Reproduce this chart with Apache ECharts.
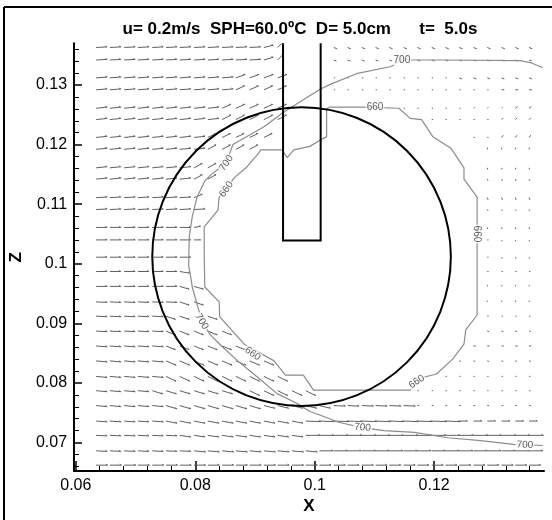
<!DOCTYPE html>
<html>
<head>
<meta charset="utf-8">
<script src="https://cdn.jsdelivr.net/npm/echarts@6/dist/echarts.min.js"></script>
<style>
html, body { margin: 0; background: #fff; }
#chart { width: 552px; height: 520px; }
</style>
</head>
<body>
<div id="chart"></div>
<script>
// chart data
var titleText = 'u= 0.2m/s  SPH=60.0\u00baC  D= 5.0cm      t=  5.0s';

var xMajor = [0.06, 0.08, 0.1, 0.12];
var xMinor = [0.064, 0.068, 0.072, 0.076, 0.084, 0.088, 0.092, 0.096, 0.104, 0.108, 0.112, 0.116, 0.124, 0.128, 0.132, 0.136];
var zMajor = [0.07, 0.08, 0.09, 0.1, 0.11, 0.12, 0.13];
var zMinor = [0.066, 0.068, 0.072, 0.074, 0.076, 0.078, 0.082, 0.084, 0.086, 0.088, 0.092, 0.094, 0.096, 0.098,
              0.102, 0.104, 0.106, 0.108, 0.112, 0.114, 0.116, 0.118, 0.122, 0.124, 0.126, 0.128, 0.132, 0.134, 0.136];

// vector grid
var xCols = [0.0634, 0.0657, 0.0681, 0.0704, 0.0728, 0.0751, 0.0774, 0.0798, 0.0821, 0.0845, 0.0868, 0.0891,
             0.0915, 0.0938, 0.0962, 0.0985, 0.1008, 0.1032, 0.1055, 0.1079, 0.1102, 0.1125, 0.1149, 0.1172,
             0.1196, 0.1219, 0.1242, 0.1266, 0.1289, 0.1313, 0.1336, 0.1359];
var zRows = [0.1363, 0.1342, 0.1312, 0.1292, 0.1261, 0.1242, 0.1212, 0.1192, 0.1161, 0.1142, 0.1111, 0.1091,
             0.1061, 0.1040, 0.1011, 0.0987, 0.0962, 0.0936, 0.0912, 0.0887, 0.0862, 0.0837, 0.0811, 0.0787,
             0.0762, 0.0736, 0.0712, 0.0686, 0.0662];
// per row: [first col, last col, u (m/s), w (m/s)]
var rowRuns = [
    [[0, 11, .20, .01], [12, 12, .17, .04], [13, 13, .10, .10], [17, 31, .06, -.025]],
    [[0, 11, .20, .01], [12, 12, .17, .05], [13, 13, .10, .10], [17, 31, .05, -.02]],
    [[0, 9, .20, .015], [10, 13, .17, .06], [17, 25, .02, 0], [26, 31, .05, -.02]],
    [[0, 9, .20, .015], [10, 13, .16, .07], [17, 28, .015, 0], [29, 31, .05, 0]],
    [[0, 8, .20, .02], [9, 13, .16, .07], [22, 26, .01, 0], [27, 29, .02, .02], [30, 31, .04, .03]],
    [[0, 8, .20, .02], [9, 13, .16, .08], [23, 28, .01, 0], [29, 31, .03, .03]],
    [[0, 7, .20, .02], [8, 12, .15, .07], [27, 28, .01, 0], [29, 31, .03, .04]],
    [[0, 7, .20, .02], [8, 11, .15, .08], [28, 31, .005, .03]],
    [[0, 6, .20, .02], [7, 9, .15, .08], [28, 31, .01, -.03]],
    [[0, 6, .20, .02], [7, 8, .15, .08], [28, 31, .015, -.03]],
    [[0, 6, .20, .01], [7, 7, .15, .06], [28, 31, .015, -.04]],
    [[0, 7, .20, .01], [28, 31, .015, -.025]],
    [[0, 6, .20, 0], [7, 7, .12, .02], [28, 31, .01, -.03]],
    [[0, 6, .20, 0], [7, 7, .12, 0], [28, 28, .005, 0], [29, 31, .01, -.025]],
    [[0, 6, .20, 0], [28, 28, .005, 0], [29, 31, .012, -.025]],
    [[0, 5, .20, 0], [6, 6, .18, -.03], [28, 31, .005, 0]],
    [[0, 5, .20, 0], [6, 7, .17, -.05], [28, 31, .005, .02]],
    [[0, 5, .20, -.01], [6, 7, .17, -.06], [28, 31, .003, .02]],
    [[0, 4, .20, -.01], [5, 8, .17, -.06], [28, 31, .025, 0]],
    [[0, 4, .20, -.01], [5, 9, .17, -.07], [28, 31, .03, -.01]],
    [[0, 4, .20, -.015], [5, 10, .17, -.07], [27, 31, .04, 0]],
    [[0, 4, .20, -.02], [5, 12, .18, -.08], [26, 31, .03, -.01]],
    [[0, 4, .20, -.02], [5, 13, .18, -.09], [25, 31, .01, 0]],
    [[0, 3, .20, -.02], [4, 9, .19, -.06], [10, 15, .18, -.09], [23, 31, .01, 0]],
    [[0, 4, .20, -.02], [5, 11, .20, -.06], [12, 16, .20, -.05], [17, 22, .21, -.01], [23, 31, .03, 0]],
    [[0, 4, .20, -.015], [5, 14, .20, -.04], [15, 25, .27, -.01], [26, 31, .15, 0]],
    [[0, 5, .20, -.01], [6, 14, .20, -.03], [15, 31, .26, 0]],
    [[0, 6, .20, -.01], [7, 15, .21, -.02], [16, 31, .25, 0]],
    [[0, 31, .21, 0]]
];

var circleCenter = [0.0978, 0.1012];
var circleRadius = 0.025;
var probeX = [0.0947, 0.1010];
var probeBottom = 0.1039;

var contour700 = [
    [0.1382, 0.1329], [0.1363, 0.1337], [0.1344, 0.1341], [0.1212, 0.1342], [0.1146, 0.1342], [0.1128, 0.1331],
    [0.1070, 0.1319], [0.1026, 0.1301], [0.1009, 0.1293], [0.0965, 0.1265], [0.0945, 0.1252], [0.0915, 0.1230],
    [0.0891, 0.1216], [0.0863, 0.1200], [0.0852, 0.1169], [0.0827, 0.1150], [0.0816, 0.1139], [0.0803, 0.1112],
    [0.0795, 0.1079], [0.0790, 0.1046], [0.0789, 0.0997], [0.0792, 0.0980], [0.0795, 0.0961], [0.0805, 0.0925],
    [0.0811, 0.0903], [0.0825, 0.0881], [0.0844, 0.0862], [0.0871, 0.0837], [0.0904, 0.0810], [0.0937, 0.0782],
    [0.0970, 0.0766], [0.0992, 0.0752], [0.1014, 0.0744], [0.1040, 0.0734], [0.1080, 0.0725], [0.1116, 0.0720],
    [0.1167, 0.0717], [0.1223, 0.0708], [0.1278, 0.0703], [0.1333, 0.0697], [0.1382, 0.0695]
];
var contour660 = [
    [0.0945, 0.1191], [0.0954, 0.1178], [0.0965, 0.1191], [0.0992, 0.1197], [0.1010, 0.1208], [0.1020, 0.1213],
    [0.1020, 0.1260], [0.1025, 0.1263], [0.1080, 0.1263], [0.1141, 0.1261], [0.1160, 0.1244], [0.1179, 0.1242],
    [0.1198, 0.1213], [0.1228, 0.1194], [0.1250, 0.1161], [0.1250, 0.1142], [0.1272, 0.1112], [0.1272, 0.0914],
    [0.1253, 0.0889], [0.1250, 0.0865], [0.1231, 0.0840], [0.1204, 0.0815], [0.1184, 0.0810], [0.1160, 0.0788],
    [0.0998, 0.0788], [0.0981, 0.0813], [0.0951, 0.0813], [0.0932, 0.0837], [0.0882, 0.0865], [0.0841, 0.0911],
    [0.0840, 0.0936], [0.0816, 0.0961], [0.0815, 0.1013], [0.0815, 0.1062], [0.0838, 0.1090], [0.0840, 0.1112],
    [0.0866, 0.1145], [0.0885, 0.1161], [0.0904, 0.1183], [0.0910, 0.1191], [0.0945, 0.1191]
];
// [x, z, text, angle]
var contourLabels = [
    [0.1146, 0.1342, '700', 0],
    [0.0852, 0.1169, '700', 55],
    [0.0811, 0.0903, '700', -60],
    [0.1080, 0.0725, '700', -5],
    [0.1352, 0.0696, '700', -3],
    [0.1101, 0.1262, '660', 0],
    [0.0852, 0.1125, '660', 55],
    [0.0896, 0.0849, '660', -35],
    [0.1171, 0.0802, '660', 35],
    [0.1272, 0.1050, '660', -90]
];

var X_MIN = 0.0597, X_MAX = 0.1384, Z_MIN = 0.0652, Z_MAX = 0.137;
var ARROW_SCALE = 55; // px per m/s
var FONT = '"Liberation Sans", Arial, sans-serif';

var vectors = [];
rowRuns.forEach(function (runs, r) {
    runs.forEach(function (run) {
        for (var c = run[0]; c <= run[1]; c++) {
            vectors.push([xCols[c], zRows[r], run[2], run[3]]);
        }
    });
});

function renderArrow(params, api) {
    var p = api.coord([api.value(0), api.value(1)]);
    var dx = api.value(2) * ARROW_SCALE, dy = -api.value(3) * ARROW_SCALE;
    var len = Math.sqrt(dx * dx + dy * dy);
    if (len < 1.3) {
        if (len === 0) { dx = 1.3; dy = 0; } else { dx = dx * 1.3 / len; dy = dy * 1.3 / len; }
        len = 1.3;
    }
    var e = [p[0] + dx, p[1] + dy];
    var ux = dx / len, uy = dy / len;
    var h = Math.min(2, len * 0.2), a = 0.5, ca = Math.cos(a), sa = Math.sin(a);
    var b1 = [e[0] - h * (ux * ca - uy * sa), e[1] - h * (uy * ca + ux * sa)];
    var kids = [
        { type: 'line', shape: { x1: p[0], y1: p[1], x2: e[0], y2: e[1] }, style: { stroke: '#606060', lineWidth: 1 } }
    ];
    if (len > 4) {
        kids.push({ type: 'line', shape: { x1: b1[0], y1: b1[1], x2: e[0], y2: e[1] }, style: { stroke: '#606060', lineWidth: 1 } });
    }
    return { type: 'group', children: kids };
}

function renderCircle(params, api) {
    var c = api.coord([api.value(0), api.value(1)]);
    var r = api.size([api.value(2), 0])[0];
    return { type: 'circle', shape: { cx: c[0], cy: c[1], r: r }, style: { fill: 'none', stroke: '#000', lineWidth: 2 } };
}

function renderProbe(params, api) {
    var pts = [
        api.coord([api.value(0), Z_MAX]),
        api.coord([api.value(0), api.value(2)]),
        api.coord([api.value(1), api.value(2)]),
        api.coord([api.value(1), Z_MAX])
    ];
    return { type: 'polyline', shape: { points: pts }, style: { fill: 'none', stroke: '#000', lineWidth: 2 } };
}

function tickFmt(v) { return String(parseFloat((+v).toFixed(3))); }

var chart = echarts.init(document.getElementById('chart'), null, { renderer: 'canvas' });

chart.setOption({
    animation: false,
    backgroundColor: '#fff',
    textStyle: { fontFamily: FONT },
    grid: { left: 66.7, top: 43.3, right: 8, bottom: 40.7, containLabel: false },
    graphic: [
        { type: 'line', shape: { x1: 4, y1: 7, x2: 552, y2: 7 }, style: { stroke: '#000', lineWidth: 2 } },
        { type: 'line', shape: { x1: 4, y1: 7, x2: 4, y2: 520 }, style: { stroke: '#000', lineWidth: 2 } },
        { type: 'text', x: 300, y: 29, style: { text: titleText, font: 'bold 17px ' + FONT, fill: '#000', textAlign: 'center', textVerticalAlign: 'middle' } }
    ],
    xAxis: [{
        type: 'value', min: X_MIN, max: X_MAX, position: 'bottom',
        name: 'X', nameLocation: 'middle', nameGap: 21,
        nameTextStyle: { fontFamily: FONT, fontWeight: 'bold', fontSize: 17, color: '#000' },
        axisLine: { show: true, onZero: false, lineStyle: { color: '#000', width: 2 } },
        axisTick: { show: true, inside: true, length: 10, customValues: xMajor, lineStyle: { color: '#000', width: 1.5 } },
        axisLabel: { show: true, customValues: xMajor, formatter: tickFmt, margin: 6, fontSize: 16, fontFamily: FONT, color: '#000' },
        splitLine: { show: false }
    }, {
        type: 'value', min: X_MIN, max: X_MAX, position: 'bottom', gridIndex: 0,
        axisLine: { show: false },
        axisTick: { show: true, inside: true, length: 5, customValues: xMinor, lineStyle: { color: '#000', width: 1 } },
        axisLabel: { show: false },
        splitLine: { show: false }
    }],
    yAxis: [{
        type: 'value', min: Z_MIN, max: Z_MAX, position: 'left',
        name: 'Z', nameLocation: 'middle', nameGap: 42, nameRotate: 90,
        nameTextStyle: { fontFamily: FONT, fontWeight: 'bold', fontSize: 17, color: '#000' },
        axisLine: { show: true, onZero: false, lineStyle: { color: '#000', width: 2 } },
        axisTick: { show: true, inside: true, length: 8, customValues: zMajor, lineStyle: { color: '#000', width: 1.5 } },
        axisLabel: { show: true, customValues: zMajor, formatter: tickFmt, margin: 7, fontSize: 16, fontFamily: FONT, color: '#000' },
        splitLine: { show: false }
    }, {
        type: 'value', min: Z_MIN, max: Z_MAX, position: 'left', gridIndex: 0,
        axisLine: { show: false },
        axisTick: { show: true, inside: true, length: 5, customValues: zMinor, lineStyle: { color: '#000', width: 1 } },
        axisLabel: { show: false },
        splitLine: { show: false }
    }],
    series: [{
        type: 'custom', name: 'velocity', silent: true, z: 1,
        xAxisIndex: 0, yAxisIndex: 0,
        renderItem: renderArrow, data: vectors, clip: true
    }, {
        type: 'line', name: 'T700', silent: true, z: 2, showSymbol: false, symbol: 'none',
        data: contour700, lineStyle: { color: '#8c8c8c', width: 1.2 }
    }, {
        type: 'line', name: 'T660', silent: true, z: 2, showSymbol: false, symbol: 'none',
        data: contour660, lineStyle: { color: '#8c8c8c', width: 1.2 }
    }, {
        type: 'scatter', name: 'labels', silent: true, z: 3, symbolSize: 2,
        itemStyle: { color: 'rgba(255,255,255,0)' },
        data: contourLabels.map(function (d) {
            return { value: [d[0], d[1]], name: d[2], label: { rotate: d[3] } };
        }),
        label: {
            show: true, position: 'inside', formatter: '{b}', fontSize: 10, fontFamily: FONT,
            color: '#333', backgroundColor: '#fff', padding: [0, 1]
        }
    }, {
        type: 'custom', name: 'cylinder', silent: true, z: 4,
        renderItem: renderCircle, data: [[circleCenter[0], circleCenter[1], circleRadius]]
    }, {
        type: 'custom', name: 'probe', silent: true, z: 4,
        renderItem: renderProbe, data: [[probeX[0], probeX[1], probeBottom]]
    }]
});
</script>
</body>
</html>
